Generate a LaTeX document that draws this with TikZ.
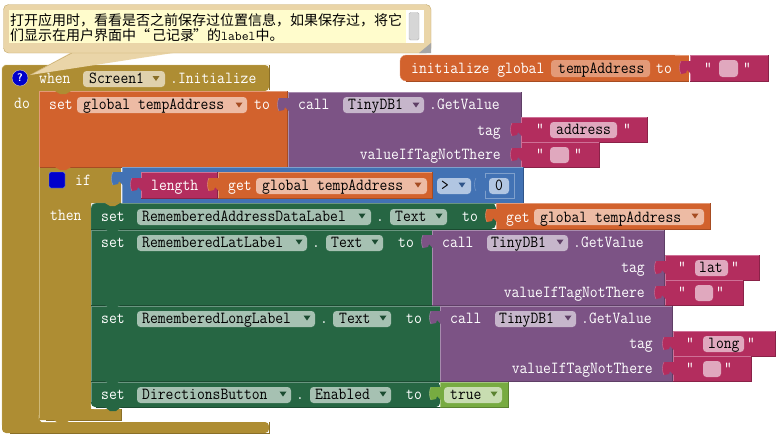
\documentclass[tikz,border=0pt]{standalone}
\usepackage{fontspec}
\newfontfamily\cjk{Noto Sans CJK SC}
\setmonofont[FakeStretch=0.9]{Latin Modern Mono}
\newfontfamily\smallmono{Latin Modern Mono}
\definecolor{must}{HTML}{AE8D33}
\definecolor{mustL}{HTML}{CEB877}
\definecolor{mustD}{HTML}{8A6F28}
\definecolor{mustF}{HTML}{DFD1AD}
\definecolor{ora}{HTML}{D2622D}
\definecolor{oraL}{HTML}{E39A78}
\definecolor{oraD}{HTML}{A64C22}
\definecolor{oraF}{HTML}{EDBBA4}
\definecolor{pur}{HTML}{7C5385}
\definecolor{purL}{HTML}{A78BAE}
\definecolor{purD}{HTML}{5F3F66}
\definecolor{purF}{HTML}{C6B6CB}
\definecolor{mag}{HTML}{B32D5E}
\definecolor{magL}{HTML}{CE7096}
\definecolor{magD}{HTML}{8A2248}
\definecolor{magF}{HTML}{E0A8BE}
\definecolor{grn}{HTML}{266643}
\definecolor{grnL}{HTML}{6A9580}
\definecolor{grnD}{HTML}{1B4B31}
\definecolor{grnF}{HTML}{A6C1B2}
\definecolor{blu}{HTML}{4272B4}
\definecolor{bluL}{HTML}{7FA0CC}
\definecolor{bluD}{HTML}{30558A}
\definecolor{bluF}{HTML}{B1C6E2}
\definecolor{lim}{HTML}{77AB41}
\definecolor{limL}{HTML}{A4C67F}
\definecolor{limD}{HTML}{5A8230}
\definecolor{limF}{HTML}{C8DDB1}
\definecolor{bub}{HTML}{EAD5A8}
\definecolor{bubD}{HTML}{C4A868}
\tikzset{
  wtxt/.style={text=white,anchor=base west,inner sep=0pt,font=\fontsize{16.9}{17}\ttfamily},
  wtxtr/.style={wtxt,anchor=base east},
  btxt/.style={text=black,anchor=base west,inner sep=0pt,font=\fontsize{16.9}{17}\ttfamily},
  cmtxt/.style={text=black,anchor=base west,inner sep=0pt,font=\fontsize{14}{14}\cjk},
}
\newcommand{\blk}[5]{%
  \fill[#5] (#1,#2) rectangle (#3,#4);
  \draw[#5D] (#1,#4) -- (#3,#4) -- (#3,#2);
  \draw[#5L] (#1,#4) -- (#1,#2) -- (#3,#2);
}
\newcommand{\plug}[3]{%
  \fill[#3] (#1+1,#2-7) -- (#1-9,#2-7) .. controls (#1-11,#2-4) and (#1-11,#2+3) .. (#1-9,#2+6) -- (#1-4,#2+5) -- (#1-3,#2+2) -- (#1+1,#2+6) -- cycle;
  \draw[#3L] (#1-9,#2-7) .. controls (#1-11,#2-4) and (#1-11,#2+3) .. (#1-9,#2+6);
}
\newcommand{\fldb}[5]{\fill[rounded corners=3.5,#5] (#1,#2) rectangle (#3,#4);}
\newcommand{\tri}[3]{\fill[#3] (#1-3.5,#2-2.5) -- (#1+3.5,#2-2.5) -- (#1,#2+2.5) -- cycle;}
\begin{document}
\begin{tikzpicture}[x=1pt,y=-1pt]
\useasboundingbox (0,0) rectangle (777,440);
\fill[white] (0,0) rectangle (777,440);

% when block
\fill[must,rounded corners=4] (2,65) -- (269,65) -- (269,91) -- (39,91) -- (39,422) -- (269,422) -- (269,433) -- (2,433) -- cycle;
\draw[mustL] (2,425) -- (2,68) -- (5,65) -- (269,65);
\draw[mustD] (269,65) -- (269,90);
\draw[mustD] (269,422) -- (269,433) -- (10,433);
\draw[white,line width=1.2] (39.5,415) -- (39.5,419) -- (42,421.5) -- (60,421.5);

% comment bubble tail + body
\fill[bub] (72,52) -- (173,53) -- (30,75) -- cycle;
\draw[bubD] (72,53) -- (30,75);
\fill[bub,draw=bubD,rounded corners=5] (3.5,4.5) rectangle (431,53);
\fill[white] (9,10) rectangle (424,43);
\fill[yellow!20!white] (9,10) rectangle (406,43);
\fill[black!16,draw=black!30,rounded corners=1.5] (409,12.5) rectangle (419,40);
\fill[black!35] (431,43) -- (431,53) -- (419,53) -- cycle;
\node[cmtxt] (c1) at (10,25) {打开应用时，看看是否之前保存过位置信息，如果保存过，将它};
\node[cmtxt] (c2) at (10,40) {们显示在用户界面中“\kern2pt 己记录\kern-1pt ”的{\fontsize{13.33}{14}\smallmono label}中。};

\fill[blue!80!black] (20,78) circle (8);
\draw[bubD!60] (20,78) circle (8);
\node[text=white,inner sep=0pt,font=\fontsize{11}{11}\bfseries\sffamily] (hq) at (20,78) {?};
\node[wtxt] (t1) at (39,83) {when};
\fldb{83}{71}{165}{87}{mustF}
\tri{156}{78.5}{mustD}
\node[btxt] (t2) at (89,83) {Screen1};
\node[wtxt] (t3) at (170,83) {.Initialize};
\node[wtxt] (t4) at (14,108) {do};

% set global
\blk{39}{91}{287}{167}{ora}
\fill[must] (55,91) -- (60,94) -- (66,94) -- (71,91) -- cycle;
\node[wtxt] (t5) at (49,109) {set};
\fldb{77}{97}{247}{113}{oraF}
\tri{239}{105}{oraD}
\node[btxt] (t6) at (83,109) {global tempAddress};
\node[wtxt] (t7) at (254,109) {to};

% call 1
\blk{288}{92}{521}{167}{pur}
\plug{288}{105}{pur}
\node[wtxt] (t8) at (298,109) {call};
\fldb{343}{97}{424}{113}{purF}
\tri{416}{105}{purD}
\node[btxt] (t9) at (348,109) {TinyDB1};
\node[wtxt] (t10) at (429,109) {.GetValue};
\node[wtxtr] (t11) at (501,135) {tag};
\node[wtxtr] (t12) at (501,159) {valueIfTagNotThere};

% address
\blk{521}{117}{647}{142}{mag}
\plug{521}{130}{mag}
\node[wtxt] (q1) at (536,134) {“};
\fldb{550}{122}{617}{138}{magF}
\node[btxt] (t13) at (556,134) {address};
\node[wtxt] (q2) at (623,134) {”};
\blk{521}{142}{599}{167}{mag}
\plug{521}{155}{mag}
\node[wtxt] (q3) at (536,159) {“};
\fldb{550}{147}{569}{163}{magF}
\node[wtxt] (q4) at (574,159) {”};

% if block
\fill[must] (39,168) -- (121,168) -- (121,203) -- (91,203) -- (91,409) -- (121,409) -- (121,420) -- (39,420) -- cycle;
\fill[ora] (55,167) -- (60,170) -- (66,170) -- (71,167) -- cycle;
\draw[mustL] (39,418) -- (39,167);
\draw[mustD] (121,409) -- (121,420) -- (46,420);
\draw[white,line width=1.2] (91.5,403) -- (91.5,406) -- (94,408.5) -- (105,408.5);
\fill[must] (54,420) -- (58,423) -- (66,423) -- (70,420) -- cycle;
\fill[blue!80!black,draw=bluL,rounded corners=2] (49,172) rectangle (65,188);
\node[wtxt] (t14) at (75,185) {if};
\node[wtxt] (t15) at (50,220) {then};

% blue test
\blk{122}{167}{523}{203}{blu}
\plug{122}{179}{blu}
\blk{141}{172}{217}{198}{mag}
\plug{141}{185}{mag}
\node[wtxt] (t16) at (151,190) {length};
\blk{218}{172}{432}{198}{ora}
\plug{218}{185}{ora}
\node[wtxt] (t17) at (228,190) {get};
\fldb{256}{178}{427}{194}{oraF}
\tri{418}{185}{oraD}
\node[btxt] (t18) at (262,190) {global tempAddress};
\fldb{437}{178}{471}{194}{bluF}
\node[btxt] (t19) at (441,190) {>};
\tri{462}{185}{bluD}
\draw[bluL,line width=1] (485,173) rectangle (514,198);
\plug{485}{185}{blu}
\fldb{489}{178}{509}{194}{bluF}
\node[btxt] (t19b) at (495,190) {0};

% set rows
\fill[grn,rounded corners=5] (91,215) -- (91,203) -- (496,203) -- (496,229) -- (91,229) -- cycle;
\fill[grn] (91,210) rectangle (100,229);
\draw[grnL,rounded corners=5] (91,229) -- (91,203) -- (121,203);
\draw[grnL] (121,203.5) -- (496,203.5);
\draw[grnD] (91,229.5) -- (496,229.5);
\fill[must] (105,203) -- (110,206) -- (115,206) -- (120,203) -- cycle;
\node[wtxt] (t20) at (101,221) {set};
\fldb{137}{209}{371}{225}{grnF}
\tri{362}{216}{grnD}
\node[btxt] (t21) at (142,221) {RememberedAddressDataLabel};
\node[wtxt] (t22) at (376,221) {.};
\fldb{390}{209}{447}{225}{grnF}
\tri{439}{216}{grnD}
\node[btxt] (t23) at (395,221) {Text};
\node[wtxt] (t24) at (462,221) {to};

\blk{91}{230}{432}{305}{grn}
\fill[grn] (105,229) -- (110,232.5) -- (115,232.5) -- (120,229) -- cycle;
\node[wtxt] (t25) at (101,247) {set};
\fldb{137}{235}{307}{251}{grnF}
\tri{299}{242}{grnD}
\node[btxt] (t26) at (142,247) {RememberedLatLabel};
\node[wtxt] (t27) at (312,247) {.};
\fldb{326}{235}{383}{251}{grnF}
\tri{375}{242}{grnD}
\node[btxt] (t28) at (331,247) {Text};
\node[wtxt] (t29) at (398,247) {to};

\blk{91}{306}{440}{381}{grn}
\fill[grn] (105,305) -- (110,308.5) -- (115,308.5) -- (120,305) -- cycle;
\node[wtxt] (t30) at (101,323) {set};
\fldb{137}{311}{315}{327}{grnF}
\tri{307}{318}{grnD}
\node[btxt] (t31) at (142,323) {RememberedLongLabel};
\node[wtxt] (t32) at (320,323) {.};
\fldb{333}{311}{391}{327}{grnF}
\tri{383}{318}{grnD}
\node[btxt] (t33) at (339,323) {Text};
\node[wtxt] (t34) at (406,323) {to};

\fill[grn,rounded corners=4] (91,382) -- (440,382) -- (440,407) -- (91,407) -- cycle;
\fill[grn] (91,382) rectangle (100,395);
\draw[grnL] (91,382) -- (440,382);
\draw[grnL] (91,382) -- (91,402);
\draw[grnD] (96,407.5) -- (440,407.5);
\fill[grn] (105,381) -- (110,384.5) -- (115,384.5) -- (120,381) -- cycle;
\fill[grn] (105,407) -- (110,411) -- (116,411) -- (121,407) -- cycle;
\node[wtxt] (t35) at (101,399) {set};
\fldb{137}{387}{291}{403}{grnF}
\tri{283}{394}{grnD}
\node[btxt] (t36) at (142,399) {DirectionsButton};
\node[wtxt] (t37) at (296,399) {.};
\fldb{310}{387}{391}{403}{grnF}
\tri{383}{394}{grnD}
\node[btxt] (t38) at (315,399) {Enabled};
\node[wtxt] (t39) at (406,399) {to};

% get right
\blk{496}{203}{710}{229}{ora}
\plug{496}{216}{ora}
\node[wtxt] (t40) at (506,222) {get};
\fldb{534}{209}{704}{225}{oraF}
\tri{695}{216}{oraD}
\node[btxt] (t41) at (540,222) {global tempAddress};

% call 2
\blk{432}{230}{664}{305}{pur}
\plug{432}{242}{pur}
\node[wtxt] (t42) at (442,247) {call};
\fldb{487}{235}{568}{251}{purF}
\tri{560}{242}{purD}
\node[btxt] (t43) at (491,247) {TinyDB1};
\node[wtxt] (t44) at (573,247) {.GetValue};
\node[wtxtr] (t45) at (645,272) {tag};
\node[wtxtr] (t46) at (645,297) {valueIfTagNotThere};
\blk{665}{255}{759}{280}{mag}
\plug{665}{268}{mag}
\node[wtxt] (q5) at (678,272) {“};
\fldb{695}{260}{728}{276}{magF}
\node[btxt] (t47) at (699,272) {lat};
\node[wtxt] (q6) at (731,272) {”};
\blk{665}{280}{743}{305}{mag}
\plug{665}{293}{mag}
\node[wtxt] (q7) at (678,297) {“};
\fldb{695}{285}{713}{301}{magF}
\node[wtxt] (q8) at (716,297) {”};

% call 3
\blk{440}{306}{672}{381}{pur}
\plug{440}{318}{pur}
\node[wtxt] (t48) at (450,323) {call};
\fldb{495}{311}{576}{327}{purF}
\tri{568}{318}{purD}
\node[btxt] (t49) at (499,323) {TinyDB1};
\node[wtxt] (t50) at (581,323) {.GetValue};
\node[wtxtr] (t51) at (653,348) {tag};
\node[wtxtr] (t52) at (653,373) {valueIfTagNotThere};
\blk{673}{331}{775}{356}{mag}
\plug{673}{344}{mag}
\node[wtxt] (q9) at (686,348) {“};
\fldb{703}{336}{744}{352}{magF}
\node[btxt] (t53) at (708,348) {long};
\node[wtxt] (q10) at (747,348) {”};
\blk{673}{356}{751}{381}{mag}
\plug{673}{369}{mag}
\node[wtxt] (q11) at (686,373) {“};
\fldb{703}{361}{721}{377}{magF}
\node[wtxt] (q12) at (724,373) {”};

% true
\blk{440}{382}{508}{407}{lim}
\plug{440}{394}{lim}
\fldb{444}{387}{502}{403}{limF}
\tri{494}{394}{limD}
\node[btxt] (t54) at (450,399) {true};

% initialize
\fill[ora,rounded corners=6] (400,55) -- (689,55) -- (689,81) -- (400,81) -- cycle;
\fill[ora] (680,55) rectangle (689,81);
\draw[oraL,rounded corners=6] (406,81) -- (400,81) -- (400,55) -- (680,55);
\draw[oraL] (675,55) -- (689,55);
\draw[oraD] (406,81) -- (689,81);
\node[wtxt] (t55) at (411,73) {initialize global};
\fill[rounded corners=3.5,oraL] (551,60) rectangle (650,77);
\node[btxt] (t56) at (558,73) {tempAddress};
\node[wtxt] (t57) at (656,73) {to};
\blk{690}{55}{768}{81}{mag}
\plug{690}{68}{mag}
\node[wtxt] (q13) at (704,73) {“};
\fldb{719}{60}{738}{77}{magF}
\node[wtxt] (q14) at (743,73) {”};
\end{tikzpicture}
\end{document}
